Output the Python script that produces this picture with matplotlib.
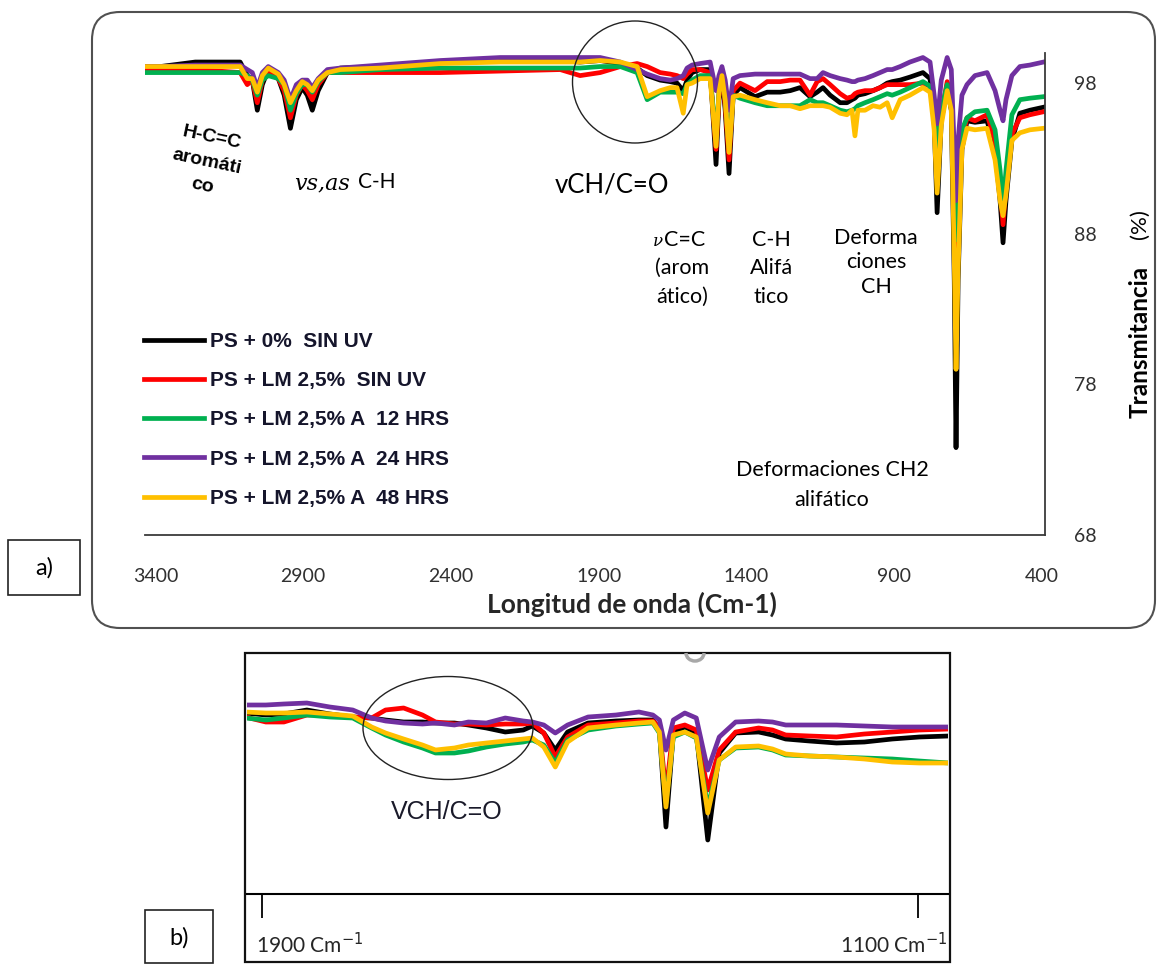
import matplotlib
matplotlib.use("Agg")
import matplotlib.pyplot as plt
from matplotlib.patches import Ellipse, FancyBboxPatch, Rectangle, Arc

W, H = 1158, 965

labels = ["PS + 0%  SIN UV", "PS + LM 2,5%  SIN UV", "PS + LM 2,5% A  12 HRS",
          "PS + LM 2,5% A  24 HRS", "PS + LM 2,5% A  48 HRS"]
colors = ["#000000", "#FF0000", "#00B050", "#7030A0", "#FFC000"]

# ---- a) full spectrum, 3400-400 cm-1 ----
wn_a = [3435, 3383, 3265, 3113, 3089, 3072, 3055, 3038, 3018, 2984,
        2964, 2943, 2923, 2903, 2886, 2869, 2849, 2818, 2774, 2639,
        2436, 2233, 2030, 1963, 1895, 1827, 1770, 1736, 1692, 1658,
        1635, 1614, 1601, 1584, 1557, 1523, 1503, 1493, 1483, 1472,
        1459, 1445, 1422, 1371, 1330, 1286, 1252, 1219, 1185, 1161,
        1141, 1117, 1083, 1060, 1043, 1033, 1023, 999, 972, 948,
        924, 907, 880, 847, 803, 779, 765, 755, 741, 721,
        707, 697, 691, 684, 671, 654, 627, 586, 559, 542,
        532, 522, 502, 475, 441, 395]

t_ps0_a = [99.1, 99.1, 99.4, 99.4, 98.5, 98.2, 96.2, 97.9, 98.9, 98.3,
           97.2, 95.0, 96.9, 97.7, 97.2, 96.2, 97.5, 98.7, 99.0, 99.1,
           99.4, 99.5, 99.5, 99.4, 99.5, 99.3, 99.0, 98.5, 98.2, 98.1,
           98.0, 97.5, 98.2, 98.7, 98.9, 98.9, 92.6, 96.9, 98.7, 96.2,
           92.0, 97.2, 97.7, 97.1, 97.4, 97.4, 97.5, 97.7, 97.1, 97.4,
           97.7, 97.2, 96.7, 96.7, 96.9, 97.0, 97.2, 97.3, 97.5, 97.7,
           98.0, 98.1, 98.2, 98.4, 98.7, 98.3, 95.5, 89.4, 95.5, 97.7,
           96.2, 84.9, 73.8, 84.9, 93.6, 95.5, 95.4, 95.5, 93.6, 90.2,
           87.4, 90.2, 94.2, 96.0, 96.2, 96.4]

t_lm_a = [98.9, 98.9, 98.9, 98.7, 97.9, 98.2, 96.7, 98.2, 98.7, 98.3,
          97.5, 95.7, 97.2, 97.9, 97.5, 96.9, 97.9, 98.7, 98.7, 98.7,
          98.7, 98.8, 98.9, 98.5, 98.7, 99.1, 99.3, 99.1, 98.7, 98.6,
          98.5, 98.3, 98.6, 98.9, 98.9, 98.7, 93.6, 97.2, 98.7, 96.5,
          92.9, 97.5, 98.0, 97.5, 98.1, 98.1, 98.2, 98.2, 97.2, 98.1,
          98.3, 97.9, 97.3, 97.0, 97.1, 97.3, 97.4, 97.5, 97.5, 97.7,
          97.9, 97.9, 97.9, 97.9, 98.0, 97.8, 95.5, 91.8, 95.9, 98.1,
          97.2, 90.2, 81.9, 88.3, 94.2, 95.7, 95.5, 95.9, 94.2, 91.2,
          88.6, 91.2, 94.6, 95.7, 95.9, 96.1]

t_12h_a = [98.7, 98.7, 98.7, 98.7, 98.5, 98.2, 97.2, 98.2, 98.5, 98.3,
           97.9, 96.2, 97.3, 97.9, 97.9, 97.4, 98.1, 98.7, 98.7, 98.9,
           99.0, 99.0, 99.0, 99.0, 99.1, 99.1, 98.7, 96.9, 97.4, 97.4,
           97.4, 97.3, 97.9, 98.2, 98.5, 98.5, 94.2, 97.5, 98.5, 96.9,
           93.7, 97.2, 97.0, 96.7, 96.5, 96.5, 96.5, 96.5, 96.9, 96.7,
           96.7, 96.5, 96.2, 96.1, 96.2, 96.3, 96.5, 96.7, 96.9, 97.1,
           97.3, 97.2, 97.4, 97.7, 98.1, 97.8, 95.9, 93.8, 96.2, 97.9,
           96.9, 91.6, 87.6, 91.6, 94.9, 95.7, 96.1, 96.2, 94.9, 92.2,
           89.9, 92.2, 95.9, 96.9, 97.0, 97.1]

t_24h_a = [99.1, 99.1, 99.2, 99.2, 98.9, 98.7, 97.7, 98.7, 99.1, 98.7,
           98.2, 96.9, 97.9, 98.2, 98.2, 97.7, 98.3, 98.9, 99.0, 99.2,
           99.5, 99.7, 99.7, 99.7, 99.7, 99.4, 98.9, 98.6, 98.3, 98.2,
           98.3, 98.5, 99.0, 99.2, 99.3, 99.4, 97.5, 98.5, 99.1, 98.2,
           96.2, 98.3, 98.5, 98.6, 98.6, 98.6, 98.6, 98.6, 98.3, 98.3,
           98.7, 98.5, 98.3, 98.2, 98.1, 98.1, 98.2, 98.3, 98.5, 98.7,
           98.9, 98.9, 99.1, 99.4, 99.7, 99.4, 97.2, 95.3, 98.2, 99.7,
           98.9, 93.6, 90.2, 94.2, 97.2, 97.9, 98.5, 98.7, 97.5, 96.2,
           95.5, 96.9, 98.5, 99.1, 99.2, 99.4]

t_48h_a = [99.1, 99.1, 99.1, 99.1, 98.3, 98.3, 97.4, 98.5, 99.0, 98.6,
           97.9, 96.7, 97.5, 98.1, 97.9, 97.5, 98.2, 98.7, 98.9, 99.0,
           99.3, 99.4, 99.4, 99.4, 99.5, 99.4, 99.1, 97.1, 97.5, 97.7,
           97.7, 96.0, 97.9, 98.0, 98.3, 98.3, 93.8, 97.4, 98.5, 96.9,
           93.4, 97.1, 97.2, 96.9, 96.7, 96.5, 96.5, 96.3, 96.5, 96.5,
           96.5, 96.4, 96.0, 95.9, 96.2, 94.5, 96.2, 96.2, 96.5, 96.4,
           96.7, 95.7, 96.9, 97.2, 97.7, 97.4, 94.9, 90.7, 95.2, 97.5,
           96.2, 86.3, 79.0, 85.6, 93.6, 95.0, 94.9, 95.0, 92.9, 90.2,
           89.2, 90.6, 94.2, 94.7, 94.9, 95.0]

x_ticks_a = [3400, 2900, 2400, 1900, 1400, 900, 400]
y_ticks_a = [68, 78, 88, 98]

# ---- b) detail of the 1900-1100 cm-1 region ----
wn_b = [1920, 1895, 1873, 1845, 1817, 1789, 1766, 1749, 1727, 1704,
        1688, 1665, 1648, 1626, 1603, 1581, 1570, 1556, 1542, 1527,
        1502, 1468, 1440, 1423, 1415, 1407, 1398, 1384, 1370, 1356,
        1342, 1322, 1294, 1277, 1261, 1232, 1199, 1165, 1131, 1098, 1062]

t_ps0_b = [98.85, 98.75, 98.80, 99.00, 98.80, 98.65, 98.60, 98.50, 98.40, 98.40,
           98.35, 98.35, 98.25, 98.10, 97.90, 98.00, 98.20, 97.85, 97.00, 97.90,
           98.35, 98.45, 98.50, 98.50, 98.00, 93.15, 97.85, 98.15, 97.85, 92.50,
           96.85, 97.85, 97.90, 97.75, 97.55, 97.45, 97.35, 97.40, 97.55, 97.65, 97.70]

t_lm_b = [98.65, 98.40, 98.40, 98.75, 98.75, 98.65, 98.60, 99.00, 99.10, 98.75,
          98.40, 98.30, 98.30, 98.25, 98.30, 98.30, 98.35, 97.85, 96.65, 97.65,
          98.25, 98.35, 98.45, 98.45, 98.15, 94.85, 98.10, 98.25, 98.00, 95.00,
          97.00, 97.90, 98.10, 98.00, 97.75, 97.70, 97.65, 97.80, 97.90, 98.00, 98.05]

t_12h_b = [98.60, 98.50, 98.60, 98.75, 98.65, 98.60, 98.10, 97.75, 97.40, 97.10,
           96.85, 96.85, 96.95, 97.15, 97.30, 97.40, 97.50, 97.25, 96.35, 97.50,
           98.00, 98.20, 98.30, 98.35, 97.85, 94.35, 97.65, 97.90, 97.60, 94.15,
           96.50, 97.10, 97.15, 97.00, 96.75, 96.70, 96.65, 96.60, 96.55, 96.45, 96.35]

t_24h_b = [99.25, 99.25, 99.30, 99.35, 99.15, 99.00, 98.60, 98.45, 98.35, 98.30,
           98.35, 98.25, 98.40, 98.35, 98.60, 98.45, 98.40, 98.25, 97.85, 98.25,
           98.65, 98.75, 98.90, 98.75, 98.50, 97.00, 98.50, 98.85, 98.60, 96.00,
           97.65, 98.40, 98.45, 98.40, 98.25, 98.25, 98.25, 98.20, 98.15, 98.15, 98.15]

t_48h_b = [98.90, 98.85, 98.85, 98.90, 98.80, 98.70, 98.15, 97.85, 97.55, 97.25,
           97.00, 97.10, 97.25, 97.35, 97.45, 97.55, 97.60, 97.15, 96.15, 97.40,
           98.10, 98.25, 98.35, 98.40, 97.90, 94.15, 97.75, 97.90, 97.65, 93.85,
           96.50, 97.15, 97.20, 97.05, 96.80, 96.70, 96.65, 96.55, 96.40, 96.35, 96.35]

x_ticks_b = [1900, 1100]

fig = plt.figure(figsize=(W / 100, H / 100), dpi=100)

# spectrum a)
ax = fig.add_axes([145 / W, 1 - 535 / H, 900 / W, 482 / H])
for vals, c, lab in zip([t_ps0_a, t_lm_a, t_12h_a, t_24h_a, t_48h_a], colors, labels):
    ax.plot(wn_a, vals, color=c, lw=3.4, label=lab)
ax.set_xlim(3435, 390)
ax.set_ylim(68, 100)
ax.spines["top"].set_visible(False)
ax.spines["left"].set_visible(False)
for s in ["bottom", "right"]:
    ax.spines[s].set_color("#3a3a3a")
    ax.spines[s].set_linewidth(1.3)
ax.yaxis.tick_right()
ax.set_xticks(x_ticks_a)
ax.set_yticks(y_ticks_a)
ax.tick_params(axis="x", length=0, pad=24, labelsize=14, labelcolor="#303030")
ax.tick_params(axis="y", length=0, pad=21, labelsize=14, labelcolor="#303030")
for lbl in ax.get_xticklabels() + ax.get_yticklabels():
    lbl.set_fontfamily("Lato")

leg = ax.legend(loc="upper left", bbox_to_anchor=(144 / W, 1 - 332 / H),
                bbox_transform=fig.transFigure, frameon=False,
                prop=dict(family="Liberation Sans", weight="bold", size=15),
                handlelength=2.9, handletextpad=0.25, labelspacing=0.97,
                borderaxespad=0, borderpad=0)
for t in leg.get_texts():
    t.set_color("#15152b")

# spectrum b)
axb = fig.add_axes([247 / W, 1 - 894 / H, 701 / W, 239 / H])
for vals, c in zip([t_ps0_b, t_lm_b, t_12h_b, t_24h_b, t_48h_b], colors):
    axb.plot(wn_b, vals, color=c, lw=3.4)
axb.set_xlim(1918, 1063)
axb.set_ylim(89.8, 101.75)
for s in ["top", "left", "right"]:
    axb.spines[s].set_visible(False)
axb.spines["bottom"].set_linewidth(1.5)
axb.set_xticks(x_ticks_b)
axb.set_xticklabels([])
axb.set_yticks([])
axb.tick_params(axis="x", direction="out", length=17, width=1.3)
axb.patch.set_alpha(0)

# overlay in pixel units for frames and annotations
ov = fig.add_axes([0, 0, 1, 1], zorder=5)
ov.set_xlim(0, W)
ov.set_ylim(H, 0)
ov.axis("off")

ov.add_patch(FancyBboxPatch((92, 12), 1063, 616, boxstyle="round,pad=0,rounding_size=28",
                            fill=False, ec="#505050", lw=1.5))
ov.add_patch(Rectangle((8, 540), 72, 55, fill=False, ec="#222222", lw=1.2))
ov.text(44, 568, "a)", ha="center", va="center", fontsize=17, family="Lato")
ov.add_patch(Rectangle((245, 653), 705, 309, fill=False, ec="#111111", lw=1.6))
ov.add_patch(Rectangle((145, 910), 68, 53, fill=False, ec="#222222", lw=1.2))
ov.text(179, 938, "b)", ha="center", va="center", fontsize=17, family="Lato")

ov.add_patch(Ellipse((635, 82), 125, 122, fill=False, ec="#222222", lw=1.0))
ov.add_patch(Ellipse((448, 728), 170, 103, fill=False, ec="#222222", lw=1.0))
ov.add_patch(Arc((695, 653), 18, 16, theta1=0, theta2=180, ec="#a8a8a8", lw=2.5))

ov.text(207, 162, "H-C=C\naromáti\nco", ha="center", va="center", rotation=-12,
        multialignment="center", fontsize=14, weight="bold",
        family="Liberation Sans", linespacing=1.6)
ov.text(322, 183, "vs,as", ha="center", va="center", fontsize=16,
        family="DejaVu Serif", style="italic")
ov.text(358, 182, "C-H", ha="left", va="center", fontsize=15, family="Lato")
ov.text(612, 185, "vCH/C=O", ha="center", va="center", fontsize=18.5, family="Lato")

ov.text(658, 242, "ν", ha="center", va="center", fontsize=12,
        family="DejaVu Serif", style="italic")
ov.text(664, 240, "C=C", ha="left", va="center", fontsize=15.5, family="Lato")
for txt, x, y in [("(arom", 682, 268), ("ático)", 682, 297),
                  ("C-H", 771, 240), ("Alifá", 771, 268), ("tico", 771, 297),
                  ("Deforma", 876, 238), ("ciones", 876, 262), ("CH", 876, 287),
                  ("Deformaciones CH2", 832, 470), ("alifático", 832, 500)]:
    ov.text(x, y, txt, ha="center", va="center", fontsize=15.5, family="Lato")

ov.text(1140, 342, "Transmitancia", ha="center", va="center", rotation=90,
        fontsize=17.5, weight="bold", family="Lato")
ov.text(1140, 224, "(%)", ha="center", va="center", rotation=90,
        fontsize=16, family="Lato")
ov.text(632, 604, "Longitud de onda (Cm-1)", ha="center", va="center",
        fontsize=19, weight="bold", family="Lato", color="#262626")

ov.text(447, 812, "VCH/C=O", ha="center", va="center", fontsize=18,
        family=["Liberation Sans Narrow", "Liberation Sans"], color="#1a1a2a")
ov.text(256, 945, "1900 Cm$^{-1}$", ha="left", va="center", fontsize=15,
        family="Lato", color="#262626")
ov.text(947, 945, "1100 Cm$^{-1}$", ha="right", va="center", fontsize=15,
        family="Lato", color="#262626")

fig.savefig("out.png", dpi=100)
